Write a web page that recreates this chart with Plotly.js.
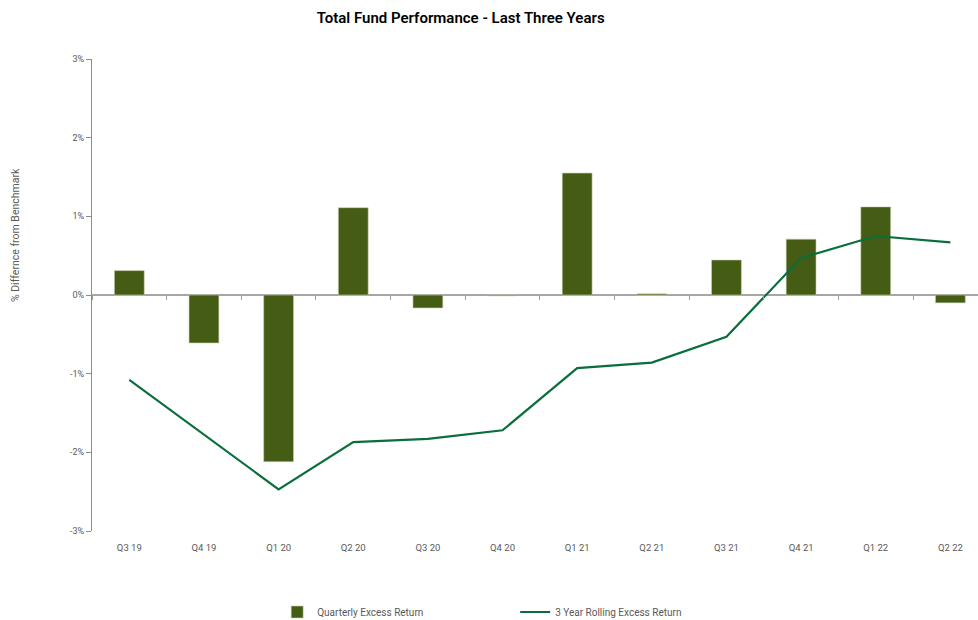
<!DOCTYPE html>
<html>
<head>
<meta charset="utf-8">
<script src="https://cdn.plot.ly/plotly-3.0.1.min.js"></script>
<style>html,body{margin:0;padding:0;background:#fff;}#chart{width:978px;height:620px;}</style>
</head>
<body>
<div id="chart"></div>
<script>
const categories = ["Q3 19","Q4 19","Q1 20","Q2 20","Q3 20","Q4 20","Q1 21","Q2 21","Q3 21","Q4 21","Q1 22","Q2 22"];
const quarterlyExcess = [0.31,-0.61,-2.12,1.11,-0.165,-0.01,1.55,0.015,0.445,0.71,1.12,-0.10];
const rollingExcess = [-1.08,-1.77,-2.47,-1.87,-1.83,-1.72,-0.93,-0.86,-0.53,0.47,0.75,0.67];
const yTicks = [-3,-2,-1,0,1,2,3];
const seriesNames = ["Quarterly Excess Return","3 Year Rolling Excess Return"];
const yTitle = "% Differnce from Benchmark";

const FONT = "Roboto, Open Sans, sans-serif";
const xRange = [-0.5, 11.37];

const traces = [
  {type:"bar", x:categories, y:quarterlyExcess, name:seriesNames[0],
   marker:{color:"#445c14", line:{color:"#c9d3b0", width:0.6}}, width:0.4,
   xaxis:"x", yaxis:"y", hoverinfo:"x+y"},
  {type:"scatter", mode:"lines", x:categories, y:rollingExcess, name:seriesNames[1],
   line:{color:"#0a6e3c", width:2.2}, xaxis:"x2", yaxis:"y", hoverinfo:"x+y"}
];

const layout = {
  width:978, height:620,
  paper_bgcolor:"#ffffff", plot_bgcolor:"#ffffff",
  margin:{l:92, r:0, t:59, b:89, autoexpand:false},
  font:{family:FONT, size:10, color:"#595959"},
  title:{text:"Total Fund Performance - Last Three Years", x:0.471, xanchor:"center", y:0.972, yanchor:"middle",
         font:{family:FONT, size:15, color:"#000000", weight:600}},
  showlegend:true,
  legend:{orientation:"h", x:0.209, xanchor:"left", y:-0.1716, yanchor:"middle",
          font:{family:FONT, size:10, color:"#595959"}, entrywidth:193, entrywidthmode:"pixels",
          itemwidth:30, traceorder:"normal"},
  annotations:[{text:yTitle, textangle:-90, xref:"paper", yref:"paper", x:-0.0869, y:0.627,
                xanchor:"center", yanchor:"middle", showarrow:false,
                font:{family:FONT, size:10.5, color:"#595959"}}],
  xaxis:{type:"category", categoryorder:"array", categoryarray:categories, range:xRange,
         showline:false, showgrid:false, zeroline:false, ticks:"", ticklabelstandoff:9,
         tickfont:{family:FONT, size:9.5, color:"#595959"}, fixedrange:true},
  xaxis2:{type:"category", categoryorder:"array", categoryarray:categories, range:xRange,
          overlaying:"x", anchor:"free", position:0.5, side:"bottom",
          showline:false, showgrid:false, zeroline:false, showticklabels:false,
          ticks:"outside", tickson:"boundaries", ticklen:4, tickcolor:"#9a9a9a", tickwidth:1},
  yaxis:{range:[-3,3], tickvals:yTicks, ticktext:yTicks.map(v=>v+"%"),
         showgrid:false, showline:true, linecolor:"#8c8c8c", linewidth:1,
         ticks:"outside", ticklen:5, tickcolor:"#8c8c8c",
         zeroline:true, zerolinecolor:"#a6a6a6", zerolinewidth:1.5,
         tickfont:{family:FONT, size:9, color:"#595959"}}
};

Plotly.newPlot("chart", traces, layout, {displayModeBar:false, staticPlot:true});
</script>
</body>
</html>
